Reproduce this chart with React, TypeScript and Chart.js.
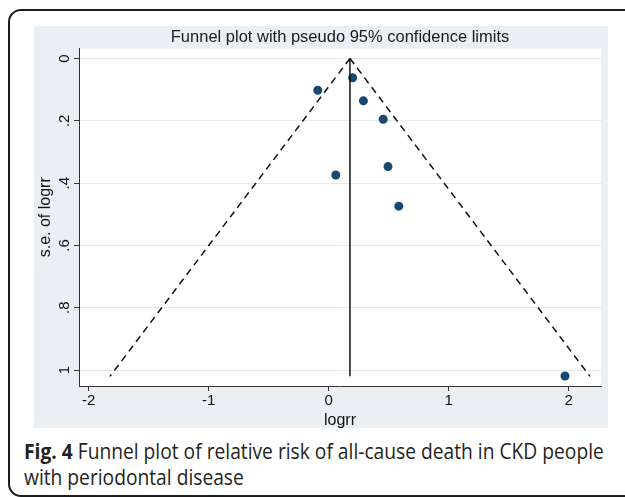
import React, { useEffect, useRef } from "react";
import { Chart, registerables } from "chart.js";

Chart.register(...registerables);

// Study estimates (log relative risk) and their standard errors
const studyLogRR = [0.2, -0.09, 0.29, 0.455, 0.495, 0.06, 0.585, 1.97];
const studySE = [0.062, 0.102, 0.136, 0.195, 0.347, 0.374, 0.474, 1.019];

// Pooled estimate line and pseudo 95% confidence limits
const pooledLineX = [0.178, 0.178];
const pooledLineSE = [0, 1.02];
const lowerLimitX = [0.178, -1.822];
const upperLimitX = [0.178, 2.178];
const limitSE = [0, 1.02];

const xTicks = [-2, -1, 0, 1, 2];
const xTickLabels = ["-2", "-1", "0", "1", "2"];
const yTicks = [0, 0.2, 0.4, 0.6, 0.8, 1];
const yTickLabels = ["0", ".2", ".4", ".6", ".8", "1"];

const FONT = "'Liberation Sans', Arial, Helvetica, sans-serif";

const plotBg = {
  id: "plotBg",
  beforeDraw(chart: any) {
    const { ctx, chartArea } = chart;
    ctx.save();
    ctx.fillStyle = "#ffffff";
    ctx.fillRect(chartArea.left, chartArea.top, chartArea.right - chartArea.left, chartArea.bottom - chartArea.top);
    ctx.restore();
  },
};

function FunnelChart() {
  const ref = useRef<HTMLCanvasElement | null>(null);
  useEffect(() => {
    if (!ref.current) return;
    const pts = studyLogRR.map((x, i) => ({ x, y: studySE[i] }));
    const chart = new Chart(ref.current, {
      type: "scatter",
      data: {
        datasets: [
          {
            data: lowerLimitX.map((x, i) => ({ x, y: limitSE[i] })),
            showLine: true,
            borderColor: "#111",
            borderWidth: 1.5,
            borderDash: [7, 5],
            pointRadius: 0,
          },
          {
            data: upperLimitX.map((x, i) => ({ x, y: limitSE[i] })),
            showLine: true,
            borderColor: "#111",
            borderWidth: 1.5,
            borderDash: [7, 5],
            pointRadius: 0,
          },
          {
            data: pooledLineX.map((x, i) => ({ x, y: pooledLineSE[i] })),
            showLine: true,
            borderColor: "#111",
            borderWidth: 1.5,
            pointRadius: 0,
          },
          {
            data: pts,
            pointRadius: 4.5,
            pointBackgroundColor: "#1a476f",
            pointBorderColor: "#1a476f",
            pointBorderWidth: 0,
          },
        ],
      } as any,
      options: {
        responsive: false,
        animation: false,
        layout: { padding: { left: 0, right: 7, top: 0, bottom: 0 } },
        plugins: {
          legend: { display: false },
          tooltip: { enabled: false },
          title: {
            display: true,
            fullSize: false,
            text: "Funnel plot with pseudo 95% confidence limits",
            color: "#1a1a1a",
            font: { family: FONT, size: 16.5, weight: "normal", lineHeight: 1 },
            padding: { top: 3, bottom: 3 },
          },
        },
        scales: {
          x: {
            type: "linear",
            min: -2.08,
            max: 2.27,
            afterBuildTicks: (s: any) => {
              s.ticks = xTicks.map((v) => ({ value: v }));
            },
            afterFit: (s: any) => {
              s.height = 42;
            },
            ticks: {
              callback: (_v: any, i: number) => xTickLabels[i],
              color: "#111",
              font: { family: FONT, size: 15 },
              padding: 1,
              maxRotation: 0,
              minRotation: 0,
            },
            grid: { drawOnChartArea: false, tickLength: 5, tickColor: "#333", tickWidth: 1 },
            border: { color: "#333", width: 1 },
            title: {
              display: true,
              text: "logrr",
              color: "#111",
              font: { family: FONT, size: 16, lineHeight: 0.95 },
              padding: { top: 0, bottom: 0 },
            },
          },
          y: {
            type: "linear",
            reverse: true,
            min: -0.032,
            max: 1.051,
            afterBuildTicks: (s: any) => {
              s.ticks = yTicks.map((v) => ({ value: v }));
            },
            afterFit: (s: any) => {
              s.width = 45;
            },
            ticks: {
              callback: (_v: any, i: number) => yTickLabels[i],
              color: "#111",
              font: { family: FONT, size: 15 },
              minRotation: 90,
              maxRotation: 90,
              crossAlign: "center",
              padding: 3,
            },
            grid: { color: "#e3ebef", lineWidth: 1, tickLength: 5, tickColor: "#333", tickWidth: 1 },
            border: { color: "#333", width: 1 },
            title: {
              display: true,
              text: "s.e. of logrr",
              color: "#111",
              font: { family: FONT, size: 16, lineHeight: 1.2 },
              padding: { top: 2, bottom: 0 },
            },
          },
        },
      } as any,
      plugins: [plotBg],
    });
    return () => chart.destroy();
  }, []);
  return <canvas ref={ref} width={574} height={402} style={{ display: "block" }} />;
}

export default function App() {
  return (
    <div
      style={{
        position: "fixed",
        left: 0,
        top: 0,
        width: 625,
        height: 497,
        overflow: "hidden",
        background: "#ffffff",
      }}
    >
      <div
        style={{
          position: "absolute",
          left: 8,
          top: 9,
          width: 660,
          height: 488,
          border: "2px solid #1c1c1c",
          borderRadius: 13,
          boxSizing: "border-box",
        }}
      />
      <div
        style={{
          position: "absolute",
          left: 34,
          top: 26,
          width: 574,
          height: 402,
          background: "#e9eff2",
        }}
      >
        <FunnelChart />
      </div>
      <div
        style={{
          position: "absolute",
          left: 24,
          top: 439,
          width: 700,
          fontFamily: "'Open Sans', 'Noto Sans', sans-serif",
          fontSize: 21,
          lineHeight: "25.5px",
          color: "#231f20",
          transform: "scaleX(0.915)",
          transformOrigin: "0 0",
          whiteSpace: "nowrap",
        }}
      >
        <div>
          <span style={{ fontWeight: 700 }}>Fig. 4</span> Funnel plot of relative risk of all-cause death in CKD people
        </div>
        <div>with periodontal disease</div>
      </div>
    </div>
  );
}
